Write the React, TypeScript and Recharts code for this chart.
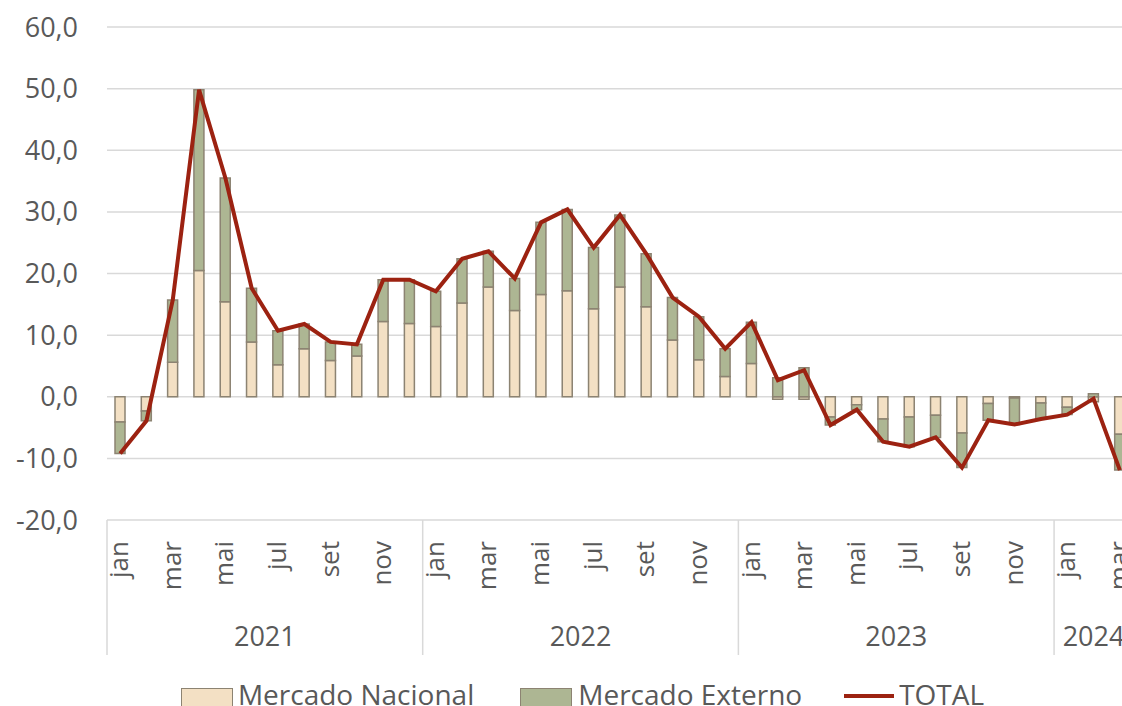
import React from 'react';
import { ComposedChart, Bar, Line, XAxis, YAxis, CartesianGrid, Legend } from 'recharts';

const MONTHS = ['jan', 'fev', 'mar', 'abr', 'mai', 'jun', 'jul', 'ago', 'set', 'out', 'nov', 'dez'];
const YEARS = ['2021', '2022', '2023', '2024'];

// Mercado Nacional, jan 2021 .. mar 2024
const NACIONAL = [
    -4.1, -2.3, 5.6, 20.5, 15.4, 8.9, 5.2, 7.8, 5.9, 6.6, 12.2, 11.9,
    11.4, 15.2, 17.8, 14.0, 16.6, 17.2, 14.3, 17.8, 14.6, 9.2, 6.0, 3.3,
    5.4, -0.4, -0.4, -3.3, -1.3, -3.6, -3.3, -3.0, -5.9, -1.1, -0.2, -1.0,
    -1.7, -0.8, -6.1,
];

// Mercado Externo
const EXTERNO = [
    -5.1, -1.6, 10.1, 29.3, 20.1, 8.7, 5.5, 4.0, 3.0, 1.9, 6.8, 7.1,
    5.7, 7.2, 5.8, 5.2, 11.7, 13.2, 9.9, 11.7, 8.6, 6.9, 7.0, 4.5,
    6.7, 3.1, 4.7, -1.3, -0.8, -3.7, -4.8, -3.6, -5.6, -2.7, -4.3, -2.6,
    -1.2, 0.5, -5.8,
];

// TOTAL
const TOTAL = [
    -9.2, -3.9, 15.7, 49.8, 35.5, 17.6, 10.7, 11.8, 8.9, 8.5, 19.0, 19.0,
    17.1, 22.4, 23.6, 19.2, 28.3, 30.4, 24.2, 29.5, 23.2, 16.1, 13.0, 7.8,
    12.1, 2.7, 4.3, -4.6, -2.1, -7.3, -8.1, -6.6, -11.5, -3.8, -4.5, -3.6,
    -2.9, -0.3, -11.9,
];

const Y_TICKS = [-20, -10, 0, 10, 20, 30, 40, 50, 60];

const data = TOTAL.map((total, i) => ({
    key: `${YEARS[Math.floor(i / 12)]}-${MONTHS[i % 12]}`,
    month: MONTHS[i % 12],
    year: YEARS[Math.floor(i / 12)],
    nacional: NACIONAL[i],
    externo: EXTERNO[i],
    total,
}));

const CHART_W = 1150;
const CHART_H = 740;
const MARGIN = { top: 27, right: 17, bottom: 0, left: 0 };
const Y_AXIS_W = 107;
const X_AXIS_H = 160;
const LEGEND_H = 60;
const BAND = (CHART_W - MARGIN.left - MARGIN.right - Y_AXIS_W) / data.length;

const TEXT = '#595959';
const GRID = '#d9d9d9';
const BEIGE = '#F3E0C4';
const GREEN = '#ADB693';
const BORDER = '#8C8372';
const RED = '#9C2211';

const fmt = (v: number) => v.toFixed(1).replace('.', ',');

function CategoryTick(props: any) {
    const { x, y, index } = props;
    const monthInYear = index % 12;
    const yearIdx = Math.floor(index / 12);
    const first = yearIdx * 12;
    const last = Math.min(first + 11, data.length - 1);
    const center = (first + last) / 2;
    return (
        <g>
            {monthInYear % 2 === 0 && (
                <text
                    transform={`translate(${x + 8},${y + 21}) rotate(-90)`}
                    textAnchor="end"
                    fontSize={26}
                    fill={TEXT}
                >
                    {data[index].month}
                </text>
            )}
            {monthInYear === 0 && (
                <line x1={x - BAND / 2} x2={x - BAND / 2} y1={y} y2={y + 135} stroke={GRID} strokeWidth={1.5} />
            )}
            {index === Math.floor(center) && (
                <text x={x + (center - index) * BAND} y={y + 126} textAnchor="middle" fontSize={27} fill={TEXT}>
                    {data[index].year}
                </text>
            )}
        </g>
    );
}

function renderLegend() {
    return (
        <div
            style={{
                display: 'flex',
                justifyContent: 'center',
                alignItems: 'flex-start',
                height: LEGEND_H,
                paddingLeft: 32,
                fontSize: 28,
                lineHeight: '36px',
                color: TEXT,
                position: 'relative',
                top: -4,
                boxSizing: 'border-box',
            }}
        >
            <span style={{ width: 52, height: 20, marginTop: 12, background: BEIGE, border: `1.5px solid ${BORDER}`, boxSizing: 'border-box' }} />
            <span style={{ marginLeft: 5, marginRight: 46 }}>Mercado Nacional</span>
            <span style={{ width: 52, height: 20, marginTop: 12, background: GREEN, border: `1.5px solid ${BORDER}`, boxSizing: 'border-box' }} />
            <span style={{ marginLeft: 6, marginRight: 42 }}>Mercado Externo</span>
            <span style={{ width: 50, height: 4, marginTop: 18, background: RED }} />
            <span style={{ marginLeft: 5 }}>TOTAL</span>
        </div>
    );
}

export default function App() {
    return (
        <div
            style={{
                position: 'fixed',
                left: 0,
                top: 0,
                width: 1122,
                height: 706,
                overflow: 'hidden',
                fontFamily: '"Open Sans", sans-serif',
                background: '#fff',
            }}
        >
            <ComposedChart width={CHART_W} height={CHART_H} data={data} margin={MARGIN} stackOffset="sign">
                <CartesianGrid vertical={false} stroke={GRID} strokeWidth={1.5} />
                <XAxis
                    dataKey="key"
                    interval={0}
                    height={X_AXIS_H}
                    axisLine={false}
                    tickLine={false}
                    tickSize={0}
                    tickMargin={0}
                    tick={(p: any) => <CategoryTick {...p} />}
                />
                <YAxis
                    width={Y_AXIS_W}
                    domain={[-20, 60]}
                    ticks={Y_TICKS}
                    tickFormatter={fmt}
                    axisLine={false}
                    tickLine={false}
                    tickSize={0}
                    tickMargin={29}
                    tick={{ fontSize: 27, fill: TEXT }}
                />
                <Legend verticalAlign="bottom" height={LEGEND_H} content={renderLegend} />
                <Bar dataKey="nacional" name="Mercado Nacional" stackId="a" fill={BEIGE} stroke={BORDER} strokeWidth={1.5} barSize={10} isAnimationActive={false} />
                <Bar dataKey="externo" name="Mercado Externo" stackId="a" fill={GREEN} stroke={BORDER} strokeWidth={1.5} barSize={10} isAnimationActive={false} />
                <Line dataKey="total" name="TOTAL" type="linear" stroke={RED} strokeWidth={4} dot={false} activeDot={false} isAnimationActive={false} />
            </ComposedChart>
        </div>
    );
}
